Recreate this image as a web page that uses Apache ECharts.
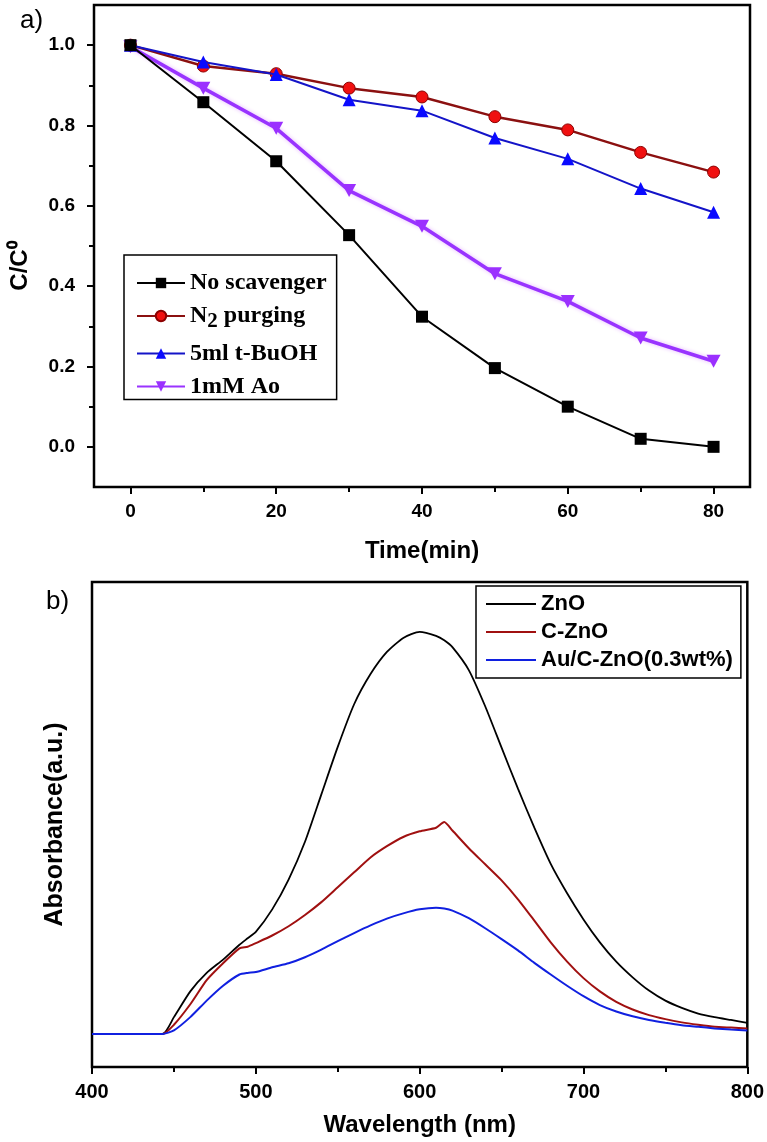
<!DOCTYPE html>
<html><head><meta charset="utf-8">
<script src="https://cdn.jsdelivr.net/npm/echarts@6/dist/echarts.min.js"></script>
<style>html,body{margin:0;padding:0;background:#fff}#c{width:767px;height:1142px}</style>
</head><body><div id="c"></div>
<script>
// ---- Panel a) data ----
const timeMin = [0, 10, 20, 30, 40, 50, 60, 70, 80];
const noScavenger = [1.0, 0.858, 0.711, 0.527, 0.324, 0.196, 0.100, 0.020, 0.0];
const n2Purging = [1.0, 0.948, 0.929, 0.893, 0.871, 0.822, 0.789, 0.733, 0.684];
const tBuOH = [1.0, 0.958, 0.927, 0.864, 0.837, 0.769, 0.717, 0.643, 0.584];
const ao1mM = [0.996, 0.893, 0.793, 0.638, 0.549, 0.431, 0.362, 0.271, 0.213];
const timeTicks = [0, 20, 40, 60, 80];
const timeMinorTicks = [10, 30, 50, 70];
const ratioTicks = [0, 0.2, 0.4, 0.6, 0.8, 1.0];
const ratioMinorTicks = [0.1, 0.3, 0.5, 0.7, 0.9];

// ---- Panel b) data ----
const wavelength = [400, 443, 450, 460, 470, 480, 490, 495, 500, 510, 520, 530, 540, 550, 560, 570, 580, 590, 600, 610, 615, 620, 630, 640, 650, 660, 670, 680, 690, 700, 710, 720, 730, 740, 750, 760, 770, 780, 790, 800];
const absZnO = [0, 0, 0.042, 0.106, 0.152, 0.185, 0.222, 0.238, 0.254, 0.310, 0.384, 0.478, 0.596, 0.714, 0.820, 0.895, 0.950, 0.985, 1.0, 0.990, 0.979, 0.962, 0.905, 0.815, 0.712, 0.610, 0.513, 0.423, 0.350, 0.285, 0.228, 0.180, 0.141, 0.108, 0.083, 0.065, 0.051, 0.042, 0.035, 0.028];
const absCZnO = [0, 0, 0.023, 0.074, 0.134, 0.176, 0.213, 0.217, 0.226, 0.245, 0.268, 0.296, 0.328, 0.365, 0.402, 0.439, 0.467, 0.490, 0.504, 0.513, 0.527, 0.506, 0.462, 0.422, 0.382, 0.335, 0.282, 0.228, 0.180, 0.139, 0.106, 0.080, 0.061, 0.047, 0.037, 0.029, 0.023, 0.018, 0.016, 0.014];
const absAuCZnO = [0, 0, 0.009, 0.042, 0.083, 0.120, 0.148, 0.152, 0.154, 0.166, 0.176, 0.191, 0.210, 0.231, 0.251, 0.270, 0.287, 0.300, 0.310, 0.314, 0.312, 0.307, 0.288, 0.263, 0.236, 0.208, 0.177, 0.148, 0.120, 0.094, 0.072, 0.056, 0.044, 0.035, 0.028, 0.022, 0.018, 0.014, 0.011, 0.009];
const wlTicks = [400, 500, 600, 700, 800];
const wlMinorTicks = [450, 550, 650, 750];

const SANS = "'Liberation Sans', Arial, sans-serif";
const SERIF = "'Liberation Serif', 'Times New Roman', serif";
const pairs = (xs, ys) => xs.map((x, i) => [x, ys[i]]);
const tickStyle = {color: '#000', width: 2};
const noLine = {show: false, onZero: false};
const tickLabel = (size, extra) => Object.assign({color: '#000', fontFamily: SANS, fontWeight: 'bold', fontSize: size}, extra || {});
const titleStyle = {color: '#000', fontFamily: SANS, fontWeight: 'bold', fontSize: 24};

const chart = echarts.init(document.getElementById('c'), null, {renderer: 'canvas'});
chart.setOption({
  animation: false,
  backgroundColor: '#fff',
  title: [
    {text: 'a)', left: 15, top: 3, textStyle: {fontFamily: SANS, fontWeight: 'normal', fontSize: 26, color: '#000'}},
    {text: 'b)', left: 41, top: 584, textStyle: {fontFamily: SANS, fontWeight: 'normal', fontSize: 26, color: '#000'}}
  ],
  grid: [
    {left: 92, top: 5, width: 658, height: 482, show: true, borderColor: '#000', borderWidth: 2.5, backgroundColor: 'transparent'},
    {left: 92, top: 582, width: 658, height: 485, show: true, borderColor: '#000', borderWidth: 2.5, backgroundColor: 'transparent'}
  ],
  legend: [
    {
      left: 124, top: 255, orient: 'vertical',
      data: ['No scavenger', 'N2 purging', '5ml t-BuOH', '1mM Ao'],
      borderColor: '#000', borderWidth: 1.5, padding: [16, 10, 1, 12],
      itemGap: 9, itemWidth: 48, itemHeight: 13,
      formatter: n => n === 'N2 purging' ? '{n|N}{s|2}{n| purging}' : '{n|' + n + '}',
      textStyle: {color: '#000', fontFamily: SERIF, fontWeight: 'bold', fontSize: 24,
        rich: {n: {fontFamily: SERIF, fontWeight: 'bold', fontSize: 24, color: '#000'},
               s: {fontFamily: SERIF, fontWeight: 'bold', fontSize: 21, color: '#000', padding: [12, 0, 0, 0]}}}
    },
    {
      left: 476, top: 586, orient: 'vertical',
      data: ['ZnO', 'C-ZnO', 'Au/C-ZnO(0.3wt%)'],
      borderColor: '#000', borderWidth: 1.5, padding: [7, 8, 7, 10],
      itemGap: 6, itemWidth: 50, itemHeight: 2, icon: 'rect',
      textStyle: {color: '#000', fontFamily: SANS, fontWeight: 'bold', fontSize: 22}
    }
  ],
  xAxis: [
    {type: 'value', gridIndex: 0, position: 'bottom', min: -5, max: 85, axisLine: noLine, splitLine: {show: false},
     axisTick: {customValues: timeTicks, length: 7, lineStyle: tickStyle},
     axisLabel: tickLabel(19, {customValues: timeTicks, margin: 15}),
     name: 'Time(min)', nameLocation: 'middle', nameGap: 52, nameTextStyle: titleStyle},
    {type: 'value', gridIndex: 0, position: 'bottom', min: -5, max: 85, axisLine: noLine, splitLine: {show: false},
     axisTick: {customValues: timeMinorTicks, length: 5, lineStyle: tickStyle}, axisLabel: {show: false}},
    {type: 'value', gridIndex: 1, position: 'bottom', min: 400, max: 800, axisLine: noLine, splitLine: {show: false},
     axisTick: {customValues: wlTicks, length: 7, lineStyle: tickStyle},
     axisLabel: tickLabel(20, {customValues: wlTicks, margin: 15}),
     name: 'Wavelength (nm)', nameLocation: 'middle', nameGap: 46, nameTextStyle: titleStyle},
    {type: 'value', gridIndex: 1, position: 'bottom', min: 400, max: 800, axisLine: noLine, splitLine: {show: false},
     axisTick: {customValues: wlMinorTicks, length: 5, lineStyle: tickStyle}, axisLabel: {show: false}}
  ],
  yAxis: [
    {type: 'value', gridIndex: 0, position: 'left', min: -0.1, max: 1.1, axisLine: noLine, splitLine: {show: false},
     axisTick: {customValues: ratioTicks, length: 7, lineStyle: tickStyle},
     axisLabel: tickLabel(19, {customValues: ratioTicks, margin: 19, formatter: v => Number(v).toFixed(1)}),
     name: 'C/C\u2070', nameLocation: 'middle', nameGap: 62,
     nameTextStyle: Object.assign({}, titleStyle, {padding: [0, 40, 0, 0]})},
    {type: 'value', gridIndex: 0, position: 'left', min: -0.1, max: 1.1, axisLine: noLine, splitLine: {show: false},
     axisTick: {customValues: ratioMinorTicks, length: 5, lineStyle: tickStyle}, axisLabel: {show: false}},
    {type: 'value', gridIndex: 1, position: 'left', min: -0.082, max: 1.124, axisLine: noLine, splitLine: {show: false},
     axisTick: {show: false}, axisLabel: {show: false},
     name: 'Absorbance(a.u.)', nameLocation: 'middle', nameGap: 24, nameTextStyle: Object.assign({}, titleStyle, {fontSize: 25})}
  ],
  series: [
    {name: 'No scavenger', type: 'line', xAxisIndex: 0, yAxisIndex: 0, data: pairs(timeMin, noScavenger),
     symbol: 'rect', symbolSize: 12, itemStyle: {color: '#000'}, lineStyle: {color: '#000', width: 2}, z: 5},
    {name: 'N2 purging', type: 'line', xAxisIndex: 0, yAxisIndex: 0, data: pairs(timeMin, n2Purging),
     symbol: 'circle', symbolSize: 12, itemStyle: {color: '#f01010', borderColor: '#8b0000', borderWidth: 1},
     lineStyle: {color: '#8b1010', width: 2.5}, z: 3},
    {name: '5ml t-BuOH', type: 'line', xAxisIndex: 0, yAxisIndex: 0, data: pairs(timeMin, tBuOH),
     symbol: 'triangle', symbolSize: 13, itemStyle: {color: '#0a0aff'}, lineStyle: {color: '#1414c8', width: 2}, z: 4},
    {name: '1mM Ao', type: 'line', xAxisIndex: 0, yAxisIndex: 0, data: pairs(timeMin, ao1mM),
     symbol: 'path://M0,0 L10,0 L5,9 Z', symbolSize: [14, 13], itemStyle: {color: '#9b30ff'},
     lineStyle: {color: '#9933ff', width: 3.5, shadowColor: '#e6b8ff', shadowBlur: 4}, z: 2},
    {name: 'ZnO', type: 'line', xAxisIndex: 2, yAxisIndex: 2, data: pairs(wavelength, absZnO),
     showSymbol: false, symbol: 'none', smooth: 0.2, lineStyle: {color: '#000', width: 1.8}, itemStyle: {color: '#000'}},
    {name: 'C-ZnO', type: 'line', xAxisIndex: 2, yAxisIndex: 2, data: pairs(wavelength, absCZnO),
     showSymbol: false, symbol: 'none', smooth: 0.2, lineStyle: {color: '#a01010', width: 2}, itemStyle: {color: '#a01010'}},
    {name: 'Au/C-ZnO(0.3wt%)', type: 'line', xAxisIndex: 2, yAxisIndex: 2, data: pairs(wavelength, absAuCZnO),
     showSymbol: false, symbol: 'none', smooth: 0.2, lineStyle: {color: '#1020e0', width: 2}, itemStyle: {color: '#1020e0'}}
  ]
});
</script></body></html>
